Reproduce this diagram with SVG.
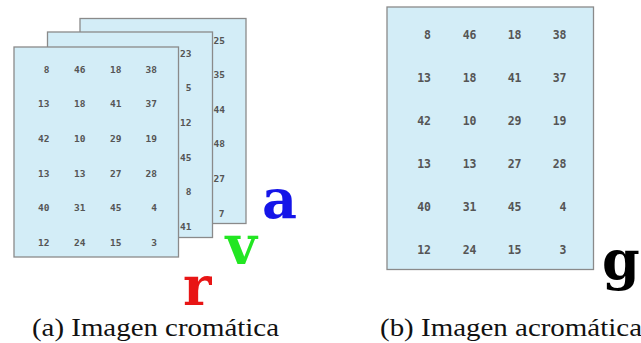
<svg xmlns="http://www.w3.org/2000/svg" width="641" height="343" viewBox="0 0 641 343">
<style>
.sheet{fill:#d3edf7;stroke:#8a8a8a;stroke-width:1.3}
.n{font-family:"DejaVu Sans Mono",monospace;font-weight:bold;font-size:9.5px;fill:#555555;text-anchor:end}
.nb{font-family:"DejaVu Sans Mono",monospace;font-weight:bold;font-size:11.5px;fill:#555555;text-anchor:end}
.ch{font-family:"DejaVu Serif",serif;font-weight:bold;font-size:54px}
.cap{font-family:"Liberation Serif","DejaVu Serif",serif;font-size:26px;fill:#111}
</style>
<rect width="641" height="343" fill="#ffffff"/>
<g id="sheet-back">
<rect class="sheet" x="80" y="18.5" width="166" height="205"/>
<text class="n" x="225" y="43.5">25</text>
<text class="n" x="225" y="78.1">35</text>
<text class="n" x="225" y="112.7">44</text>
<text class="n" x="225" y="147.3">48</text>
<text class="n" x="225" y="181.9">27</text>
<text class="n" x="224.5" y="216.5">7</text>
</g>
<g id="sheet-middle">
<rect class="sheet" x="47.5" y="32" width="165" height="205.5"/>
<text class="n" x="191.5" y="56.8">23</text>
<text class="n" x="191.5" y="91.4">5</text>
<text class="n" x="191.5" y="126">12</text>
<text class="n" x="191.5" y="160.6">45</text>
<text class="n" x="191.5" y="195.2">8</text>
<text class="n" x="191.5" y="229.8">41</text>
</g>
<g id="sheet-front">
<rect class="sheet" x="14" y="47" width="164.5" height="210"/>
<g>
<text class="n" x="49.5" y="72.5">8</text><text class="n" x="85.5" y="72.5">46</text><text class="n" x="121.5" y="72.5">18</text><text class="n" x="157" y="72.5">38</text>
<text class="n" x="49.5" y="107.1">13</text><text class="n" x="85.5" y="107.1">18</text><text class="n" x="121.5" y="107.1">41</text><text class="n" x="157" y="107.1">37</text>
<text class="n" x="49.5" y="141.7">42</text><text class="n" x="85.5" y="141.7">10</text><text class="n" x="121.5" y="141.7">29</text><text class="n" x="157" y="141.7">19</text>
<text class="n" x="49.5" y="176.6">13</text><text class="n" x="85.5" y="176.6">13</text><text class="n" x="121.5" y="176.6">27</text><text class="n" x="157" y="176.6">28</text>
<text class="n" x="49.5" y="210.8">40</text><text class="n" x="85.5" y="210.8">31</text><text class="n" x="121.5" y="210.8">45</text><text class="n" x="157" y="210.8">4</text>
<text class="n" x="49.5" y="245.5">12</text><text class="n" x="85.5" y="245.5">24</text><text class="n" x="121.5" y="245.5">15</text><text class="n" x="157" y="245.5">3</text>
</g>
</g>
<g id="channel-labels">
<text class="ch" x="262" y="217.5" fill="#1515e8">a</text>
<text class="ch" x="225.5" y="263.5" fill="#22e622">v</text>
<text class="ch" x="183" y="305" fill="#e81515">r</text>
</g>
<g id="sheet-gray">
<rect class="sheet" x="387" y="7" width="206.5" height="262.5"/>
<text class="nb" x="431" y="38.5">8</text><text class="nb" x="476.5" y="38.5">46</text><text class="nb" x="521.5" y="38.5">18</text><text class="nb" x="566.5" y="38.5">38</text>
<text class="nb" x="431" y="81.8">13</text><text class="nb" x="476.5" y="81.8">18</text><text class="nb" x="521.5" y="81.8">41</text><text class="nb" x="566.5" y="81.8">37</text>
<text class="nb" x="431" y="124.9">42</text><text class="nb" x="476.5" y="124.9">10</text><text class="nb" x="521.5" y="124.9">29</text><text class="nb" x="566.5" y="124.9">19</text>
<text class="nb" x="431" y="167.5">13</text><text class="nb" x="476.5" y="167.5">13</text><text class="nb" x="521.5" y="167.5">27</text><text class="nb" x="566.5" y="167.5">28</text>
<text class="nb" x="431" y="210.9">40</text><text class="nb" x="476.5" y="210.9">31</text><text class="nb" x="521.5" y="210.9">45</text><text class="nb" x="566.5" y="210.9">4</text>
<text class="nb" x="431" y="254.2">12</text><text class="nb" x="476.5" y="254.2">24</text><text class="nb" x="521.5" y="254.2">15</text><text class="nb" x="566.5" y="254.2">3</text>
</g>
<g id="gray-label">
<text class="ch" x="602" y="279" fill="#000">g</text>
</g>
<g id="captions">
<text class="cap" x="32" y="335.7" textLength="247" lengthAdjust="spacingAndGlyphs">(a) Imagen cromática</text>
<text class="cap" x="380" y="335.7" textLength="262" lengthAdjust="spacingAndGlyphs">(b) Imagen acromática</text>
</g>
</svg>
